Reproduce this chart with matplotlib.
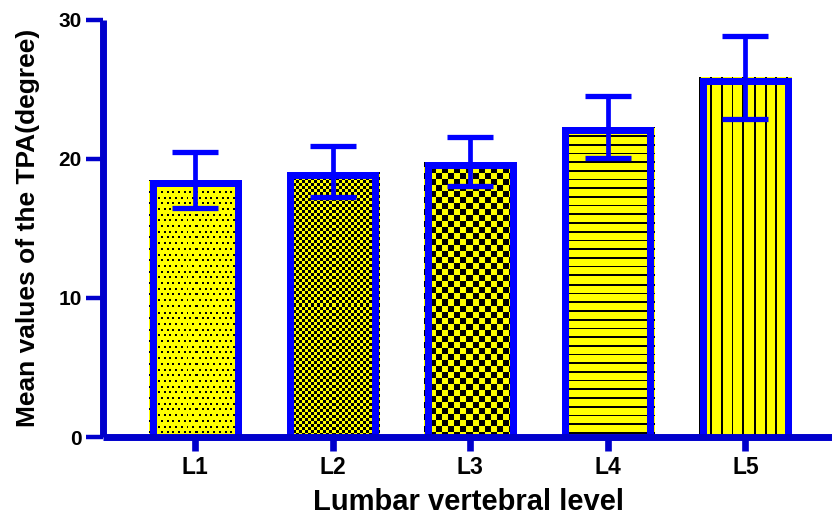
import numpy as np
import matplotlib

matplotlib.use("Agg")
import matplotlib.pyplot as plt

plt.rcParams["font.family"] = ["Liberation Sans", "DejaVu Sans"]
plt.rcParams["font.weight"] = "bold"

levels = ["L1", "L2", "L3", "L4", "L5"]
mean_tpa = [18.47, 19.05, 19.78, 22.3, 25.84]
sd_tpa = [2.0, 1.84, 1.77, 2.23, 2.98]
fills = ["dots", "fine_checker", "checker", "hlines", "vlines"]

BLUE = "#0000FF"
AXIS_BLUE = "#0000CC"
YELLOW = np.array([1.0, 1.0, 0.0])
BLACK = np.array([0.0, 0.0, 0.0])
BORDER_PX = 7.0


def texture(kind, h, w):
    i, j = np.mgrid[0:h, 0:w]
    if kind == "dots":
        yy = i / 5.7
        xx = j / 5.7 + 0.5 * (np.floor(yy) % 2)
        mask = ((yy % 1) < 0.34) & ((xx % 1) < 0.34)
    elif kind == "fine_checker":
        mask = ((i // 3) + (j // 3)) % 2 == 0
    elif kind == "checker":
        mask = ((i // 6) + (j // 6)) % 2 == 0
    elif kind == "hlines":
        mask = ((i / 8.7) % 1) < (1.7 / 8.7)
    else:
        mask = ((j / 10.7) % 1) < (1.9 / 10.7)
    img = np.empty((h, w, 3))
    img[:] = YELLOW
    img[mask] = BLACK
    return img


fig = plt.figure(figsize=(8.32, 5.2), dpi=100)
ax = fig.add_axes([0.1238, 0.1596, 0.8762, 0.8029])

xlim = (-0.67, 4.63)
ylim = (0, 30)
ax.set_xlim(*xlim)
ax.set_ylim(*ylim)

x = np.arange(len(levels))
bar_width = 0.67
bars = ax.bar(x, mean_tpa, width=bar_width, color="yellow", edgecolor="none",
              linewidth=0, zorder=1)

# half a border in data units, so the outline sits inside each bar
to_data = ax.transData.inverted()
(ox, oy), (hx, hy) = to_data.transform([(0, 0), (BORDER_PX / 2, BORDER_PX / 2)])
dx, dy = hx - ox, hy - oy

for rect, kind in zip(bars, fills):
    x0, y0 = rect.get_x(), rect.get_y()
    x1, y1 = x0 + rect.get_width(), y0 + rect.get_height()
    (px0, py0), (px1, py1) = ax.transData.transform([(x0, y0), (x1, y1)])
    w_px = max(int(round(px1 - px0)), 1)
    h_px = max(int(round(py1 - py0)), 1)
    im = ax.imshow(texture(kind, h_px, w_px), extent=(x0, x1, y0, y1),
                   origin="upper", interpolation="nearest", aspect="auto",
                   zorder=1.5)
    im.set_clip_path(rect)

    # left, top and right sides; the bottom rests on the axis line
    ax.plot([x0 + dx, x0 + dx, x1 - dx, x1 - dx], [y0, y1 - dy, y1 - dy, y0],
            color=BLUE, linewidth=BORDER_PX * 0.72, solid_joinstyle="miter",
            solid_capstyle="butt", zorder=2)

ax.errorbar(x, mean_tpa, yerr=sd_tpa, fmt="none", ecolor=BLUE,
            elinewidth=3.4, capsize=16.3, capthick=3.8, zorder=3)

ax.set_xlim(*xlim)
ax.set_ylim(*ylim)

ax.set_xticks(x)
ax.set_xticklabels(levels)
ax.set_yticks([0, 10, 20, 30])

for side in ("top", "right"):
    ax.spines[side].set_visible(False)
for side in ("left", "bottom"):
    ax.spines[side].set_color(AXIS_BLUE)
    ax.spines[side].set_linewidth(5)
    ax.spines[side].set_capstyle("butt")
    ax.spines[side].set_zorder(4)

ax.tick_params(axis="y", colors=AXIS_BLUE, width=3.2, length=12.3, pad=3,
               labelcolor="black", labelsize=15)
ax.tick_params(axis="x", colors=AXIS_BLUE, width=4.8, length=9.9, pad=4,
               labelcolor="black", labelsize=16.5)
for label in ax.get_xticklabels() + ax.get_yticklabels():
    label.set_fontweight("bold")

ax.set_xlabel("Lumbar vertebral level", fontsize=21, fontweight="bold")
ax.xaxis.set_label_coords(0.502, -0.122)
ax.set_ylabel("Mean values of the TPA(degree)", fontsize=19, fontweight="bold")
ax.yaxis.set_label_coords(-0.087, 0.5)

fig.savefig("out.png", dpi=100)
